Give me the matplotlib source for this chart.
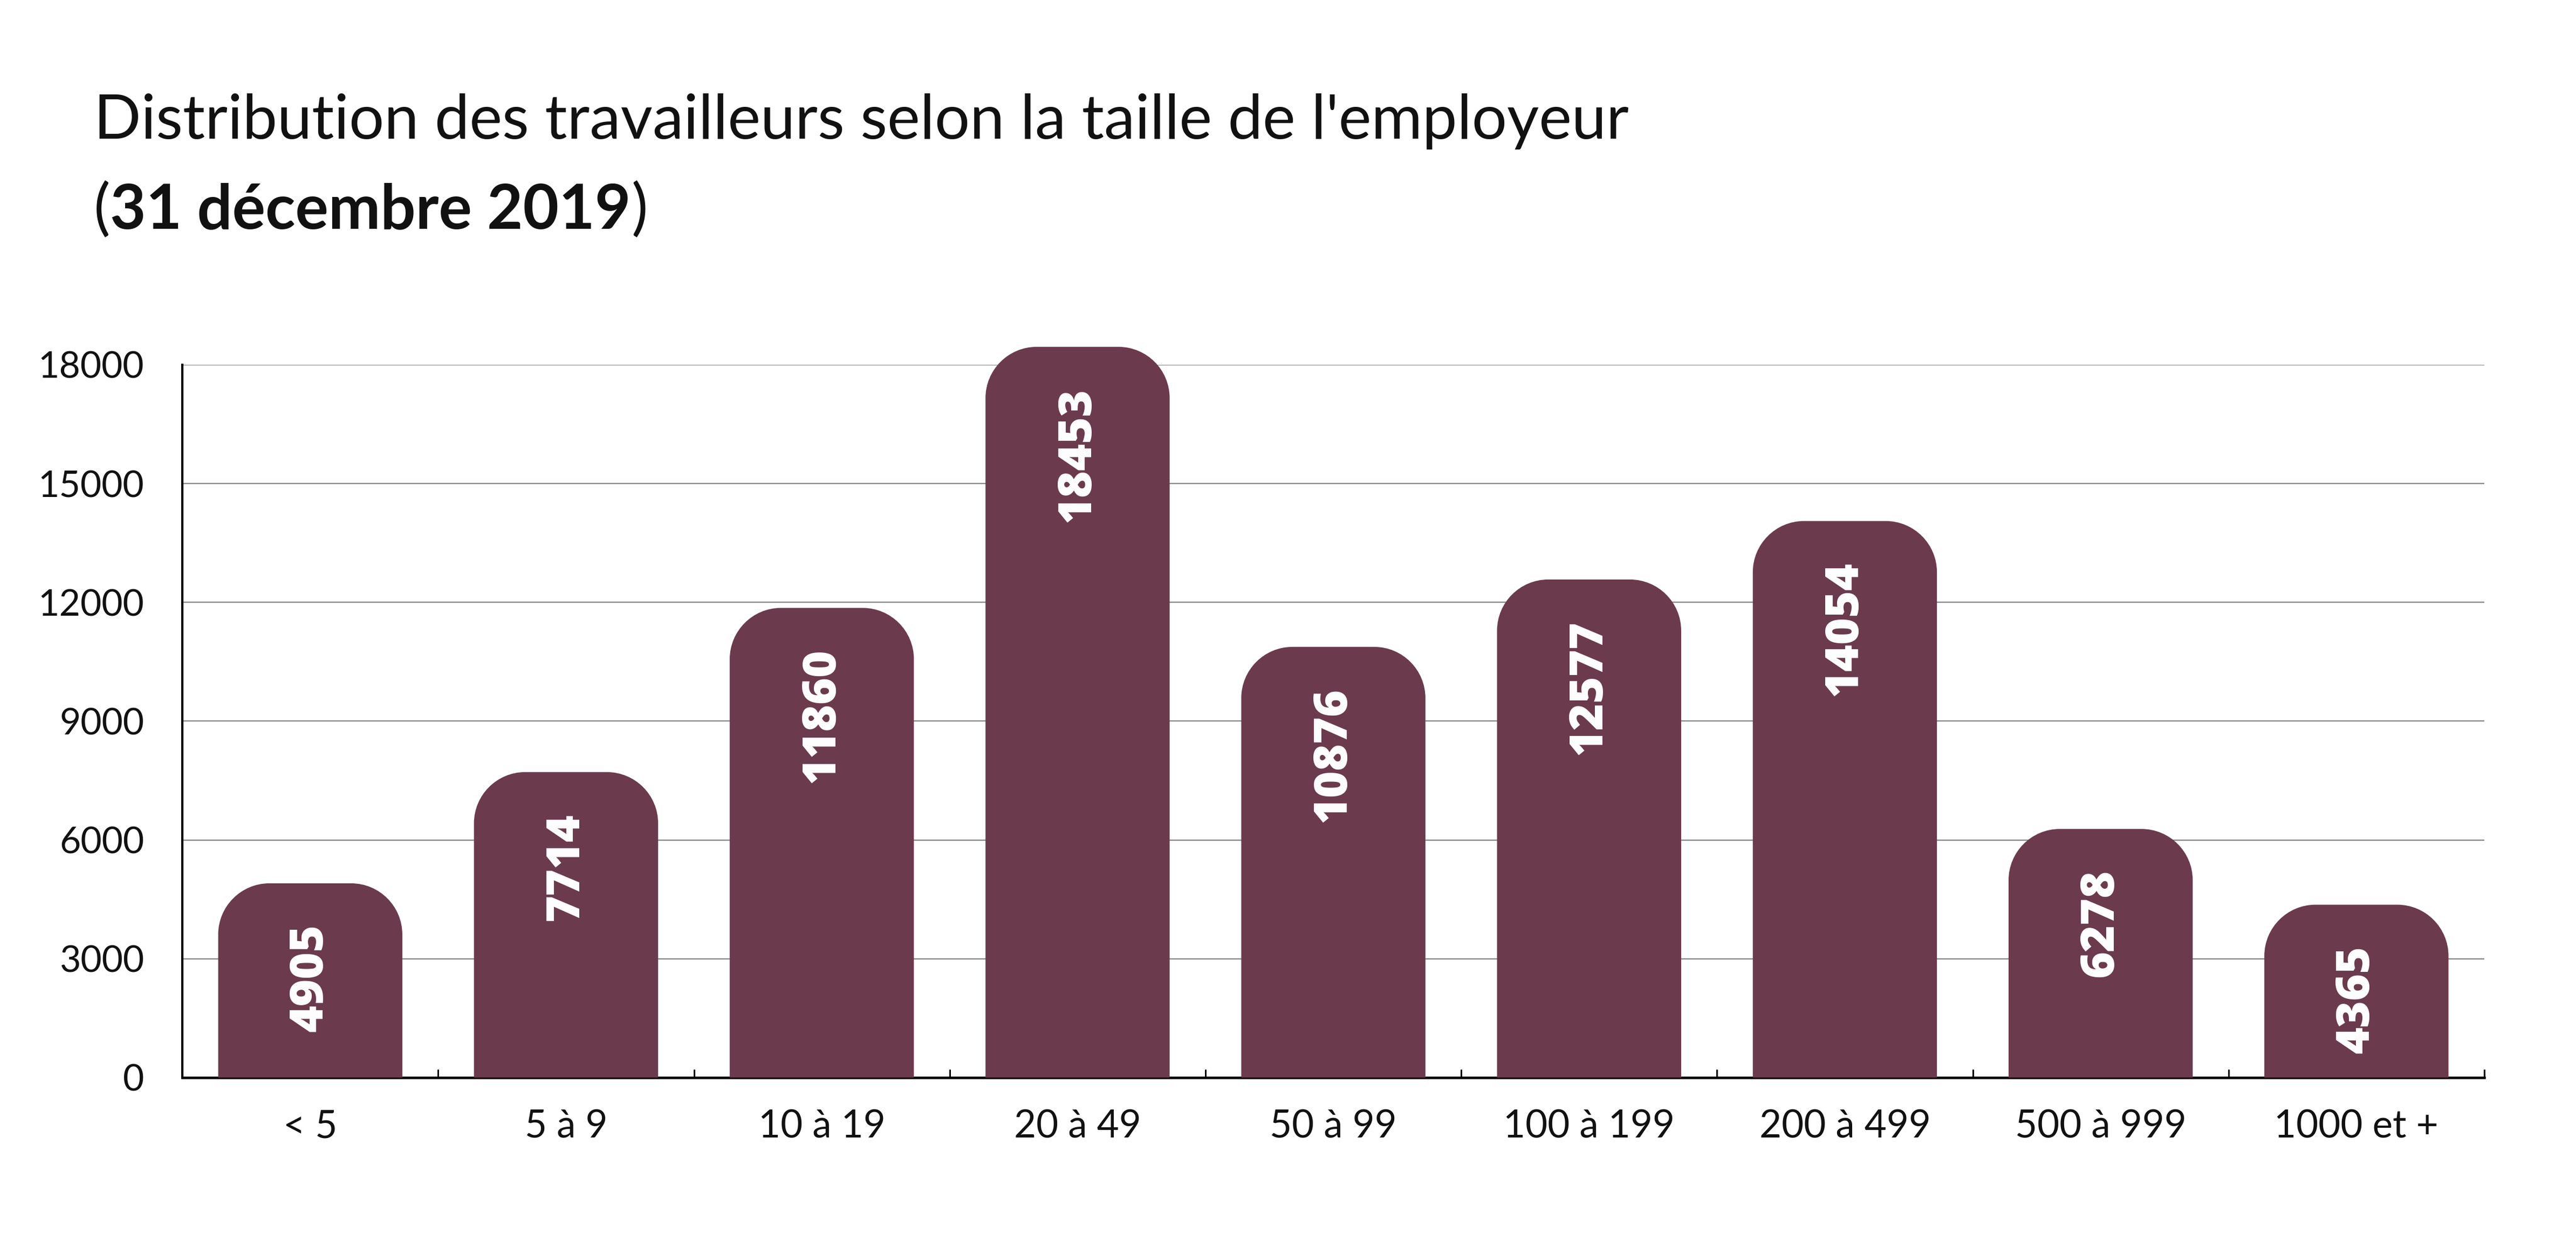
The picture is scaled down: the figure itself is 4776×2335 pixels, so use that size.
import matplotlib.pyplot as plt
from matplotlib.path import Path
from matplotlib.patches import PathPatch

# Données
categories = ["< 5", "5 à 9", "10 à 19", "20 à 49", "50 à 99",
              "100 à 199", "200 à 499", "500 à 999", "1000 et +"]
travailleurs = [4905, 7714, 11860, 18453, 10876, 12577, 14054, 6278, 4365]
graduations = [0, 3000, 6000, 9000, 12000, 15000, 18000]

COULEUR = "#6b3a4d"
POLICE = "Lato"
POLICE_CHIFFRES = "Open Sans"


def barre_arrondie(x0, largeur, hauteur, rx, ry):
    # rectangle avec seulement les coins du haut arrondis
    k = 0.5523
    x1 = x0 + largeur
    verts = [
        (x0, 0), (x0, hauteur - ry),
        (x0, hauteur - ry + k * ry), (x0 + rx - k * rx, hauteur), (x0 + rx, hauteur),
        (x1 - rx, hauteur),
        (x1 - rx + k * rx, hauteur), (x1, hauteur - ry + k * ry), (x1, hauteur - ry),
        (x1, 0), (x0, 0),
    ]
    codes = [Path.MOVETO, Path.LINETO,
             Path.CURVE4, Path.CURVE4, Path.CURVE4,
             Path.LINETO,
             Path.CURVE4, Path.CURVE4, Path.CURVE4,
             Path.LINETO, Path.CLOSEPOLY]
    return Path(verts, codes)


fig = plt.figure(figsize=(4776 / 300, 2335 / 300), dpi=300)
ax = fig.add_axes([0.0708, 0.1448, 0.8936, 0.5657])

x = list(range(len(categories)))
barres = ax.bar(x, travailleurs, width=0.72, color=COULEUR, zorder=3)
ax.set_xlim(-0.5, len(categories) - 0.5)
ax.set_ylim(0, 18000)

# rayon des coins : ~95 px en x et en y
fig.canvas.draw()
bb = ax.get_window_extent()
rx = 95 / (bb.width / (len(categories)))
ry = 95 / (bb.height / 18000)

for rect in barres:
    chemin = barre_arrondie(rect.get_x(), rect.get_width(), rect.get_height(), rx, ry)
    ax.add_patch(PathPatch(chemin, facecolor=COULEUR, edgecolor="none",
                           zorder=3, clip_on=False))
    rect.set_visible(False)

for xi, v in zip(x, travailleurs):
    ax.annotate(f"{v}", (xi, v), xytext=(0, -18), textcoords="offset points",
                rotation=90, ha="center", va="top", color="white",
                fontsize=20.5, fontweight="heavy", family=POLICE_CHIFFRES,
                zorder=4, annotation_clip=False)

# axes et grille
ax.set_yticks(graduations)
ax.set_yticklabels([str(g) for g in graduations], family=POLICE,
                   fontsize=16.3, color="#111111")
ax.tick_params(axis="y", length=0, pad=17)
ax.grid(axis="y", color="#888888", linewidth=0.55, zorder=0)
ax.set_axisbelow(True)

ax.set_xticks(x)
ax.set_xticklabels(categories, family=POLICE, fontsize=17, color="#111111")
ax.tick_params(axis="x", length=0, pad=14)
for b in [i + 0.5 for i in x]:
    ax.plot([b, b], [0, 0], marker=[(0, 0), (0, 1)], markersize=7,
            color="black", markeredgewidth=0.7, clip_on=False, zorder=5)

for s in ["top", "right"]:
    ax.spines[s].set_visible(False)
ax.spines["left"].set_linewidth(1.0)
ax.spines["bottom"].set_linewidth(1.1)

# titre
fig.text(0.0364, 0.890, "Distribution des travailleurs selon la taille de l'employeur",
         family=POLICE, fontsize=27.6, va="baseline", color="#111111")

rend = fig.canvas.get_renderer()
xpos = 0.0364
for morceau, poids in [("(", "normal"), ("31 décembre 2019", "bold"), (")", "normal")]:
    t = fig.text(xpos, 0.8188, morceau, family=POLICE, fontweight=poids,
                 fontsize=27.6, va="baseline", color="#111111")
    largeur = t.get_window_extent(renderer=rend).width
    xpos += largeur / fig.bbox.width

fig.savefig("out.png", dpi=300)
